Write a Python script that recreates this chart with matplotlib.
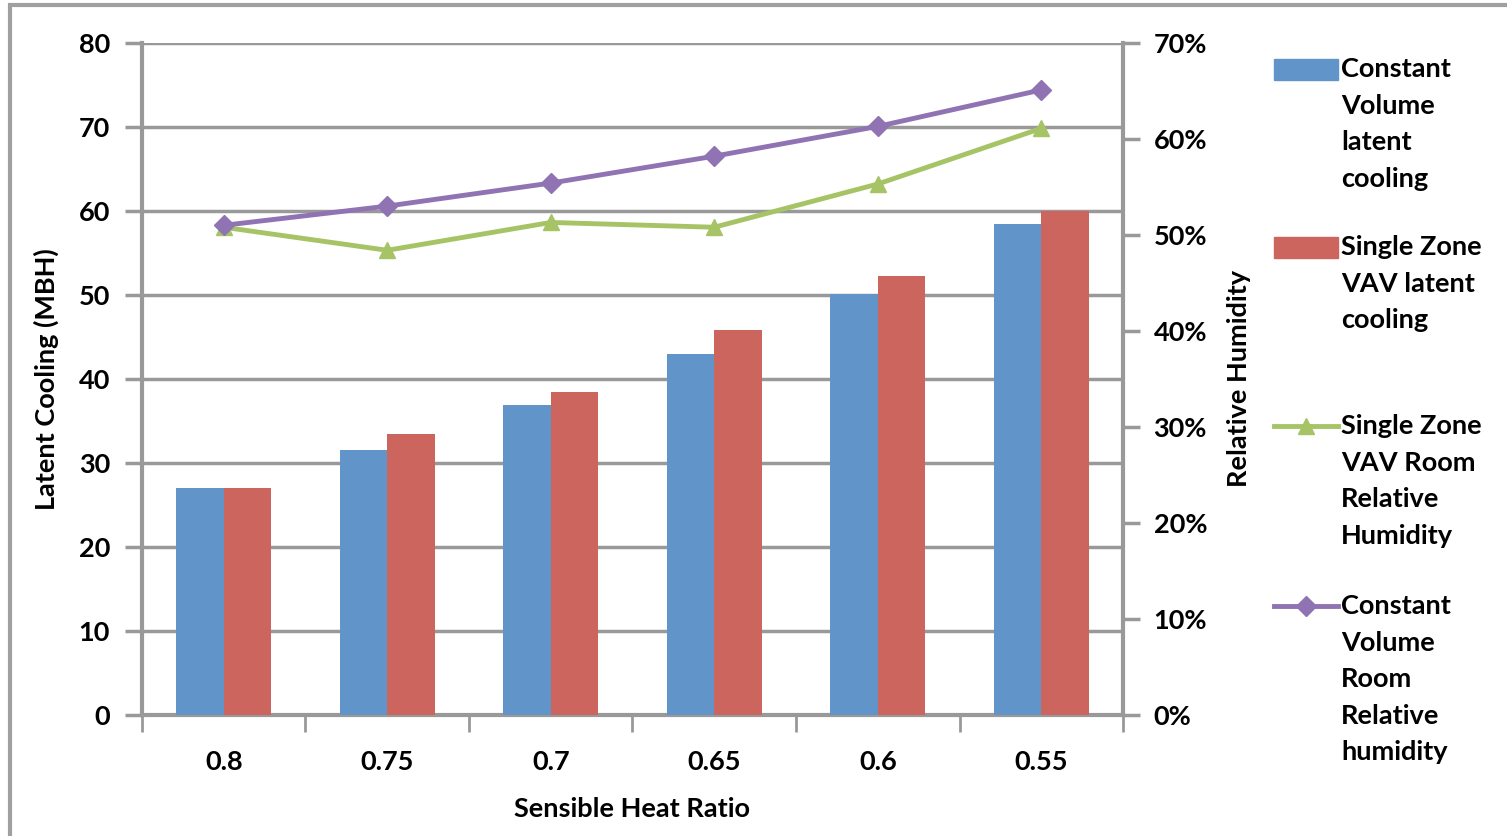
import numpy as np
import matplotlib.pyplot as plt
from matplotlib.lines import Line2D
from matplotlib.patches import Rectangle
from matplotlib.ticker import PercentFormatter

plt.rcParams['font.family'] = ['Lato', 'DejaVu Sans']

shr = ['0.8', '0.75', '0.7', '0.65', '0.6', '0.55']
cv_latent = [27.0, 31.5, 36.9, 43.0, 50.1, 58.4]
sz_latent = [27.0, 33.4, 38.5, 45.8, 52.3, 60.0]
sz_rh = [50.8, 48.4, 51.3, 50.8, 55.3, 61.1]
cv_rh = [51.0, 53.0, 55.4, 58.2, 61.3, 65.1]

blue = '#6194C9'
red = '#CC655E'
green = '#A6C466'
purple = '#8F73B2'
grey = '#999999'
fs = 19.5

fig = plt.figure(figsize=(15.07, 8.36), dpi=100)
ax = fig.add_axes([0.0942, 0.1447, 0.651, 0.804])

x = np.arange(len(shr))
w = 0.29
ax.bar(x - w / 2, cv_latent, w, color=blue, zorder=3)
ax.bar(x + w / 2, sz_latent, w, color=red, zorder=3)

ax.set_xlim(-0.5, len(shr) - 0.5)
ax.set_ylim(0, 80)
ax.set_yticks(range(0, 81, 10))
ax.yaxis.grid(True, color=grey, lw=2.5, zorder=0)
ax.set_axisbelow(True)

# x ticks sit between the categories
ax.set_xticks(np.arange(-0.5, len(shr), 1), minor=False)
ax.set_xticklabels([])
ax.set_xticks(x, minor=True)
ax.set_xticklabels(shr, minor=True, fontsize=fs, fontweight='bold')
ax.tick_params(axis='x', which='major', length=12, width=2, color=grey, direction='out')
ax.tick_params(axis='x', which='minor', length=0, pad=25)
ax.tick_params(axis='y', length=12, width=2.5, color=grey, direction='out',
               labelsize=fs, pad=11)
for lab in ax.get_yticklabels():
    lab.set_fontweight('bold')

for s in ['top', 'right']:
    ax.spines[s].set_visible(False)
for s in ['left', 'bottom']:
    ax.spines[s].set_color(grey)
    ax.spines[s].set_linewidth(3)

ax.set_xlabel('Sensible Heat Ratio', fontsize=fs, fontweight='bold', labelpad=17)
ax.set_ylabel('Latent Cooling (MBH)', fontsize=fs, fontweight='bold', labelpad=14)

# relative humidity on the secondary axis
ax2 = ax.twinx()
ax2.plot(x, np.array(sz_rh) / 100, color=green, lw=3.5, marker='^', ms=12, zorder=4)
ax2.plot(x, np.array(cv_rh) / 100, color=purple, lw=3.5, marker='D', ms=10, zorder=5)
ax2.set_ylim(0, 0.70)
ax2.set_yticks(np.arange(0, 0.701, 0.1))
ax2.yaxis.set_major_formatter(PercentFormatter(1.0, decimals=0))
ax2.tick_params(axis='y', length=12, width=2.5, color=grey, direction='out',
                labelsize=fs, pad=10)
for lab in ax2.get_yticklabels():
    lab.set_fontweight('bold')
for s in ['top', 'left', 'bottom']:
    ax2.spines[s].set_visible(False)
ax2.spines['right'].set_color(grey)
ax2.spines['right'].set_linewidth(3)
ax2.set_ylabel('Relative Humidity', fontsize=fs, fontweight='bold', labelpad=14)

# legend drawn by hand, one text per line
W, H = 1507, 836
def fx(px):
    return px / W
def fy(py):
    return 1 - py / H

entries = [
    ('patch', blue, None, ['Constant', 'Volume', 'latent', 'cooling'], 69),
    ('patch', red, None, ['Single Zone', 'VAV latent', 'cooling'], 247),
    ('line', green, '^', ['Single Zone', 'VAV Room', 'Relative', 'Humidity'], 426),
    ('line', purple, 'D', ['Constant', 'Volume', 'Room', 'Relative', 'humidity'], 606),
]
step = 36.6
for kind, col, mk, lines, y0 in entries:
    if kind == 'patch':
        fig.patches.append(Rectangle((fx(1274), fy(y0 + 11)), fx(64), 21 / H,
                                     transform=fig.transFigure, color=col))
    else:
        fig.lines.append(Line2D([fx(1274), fx(1338)], [fy(y0), fy(y0)],
                                transform=fig.transFigure, color=col, lw=3.5))
        fig.lines.append(Line2D([fx(1306)], [fy(y0)], transform=fig.transFigure,
                                color=col, marker=mk, ms=12 if mk == '^' else 10))
    for i, t in enumerate(lines):
        fig.text(fx(1341), fy(y0 + i * step), t, fontsize=fs, fontweight='bold',
                 va='center', ha='left')

# chart area border
fig.patches.append(Rectangle((fx(10), fy(H + 20)), fx(W), (H + 20 - 5) / H,
                             transform=fig.transFigure, fill=False,
                             edgecolor='#A0A0A0', lw=3))

fig.savefig('out.png', dpi=100)
